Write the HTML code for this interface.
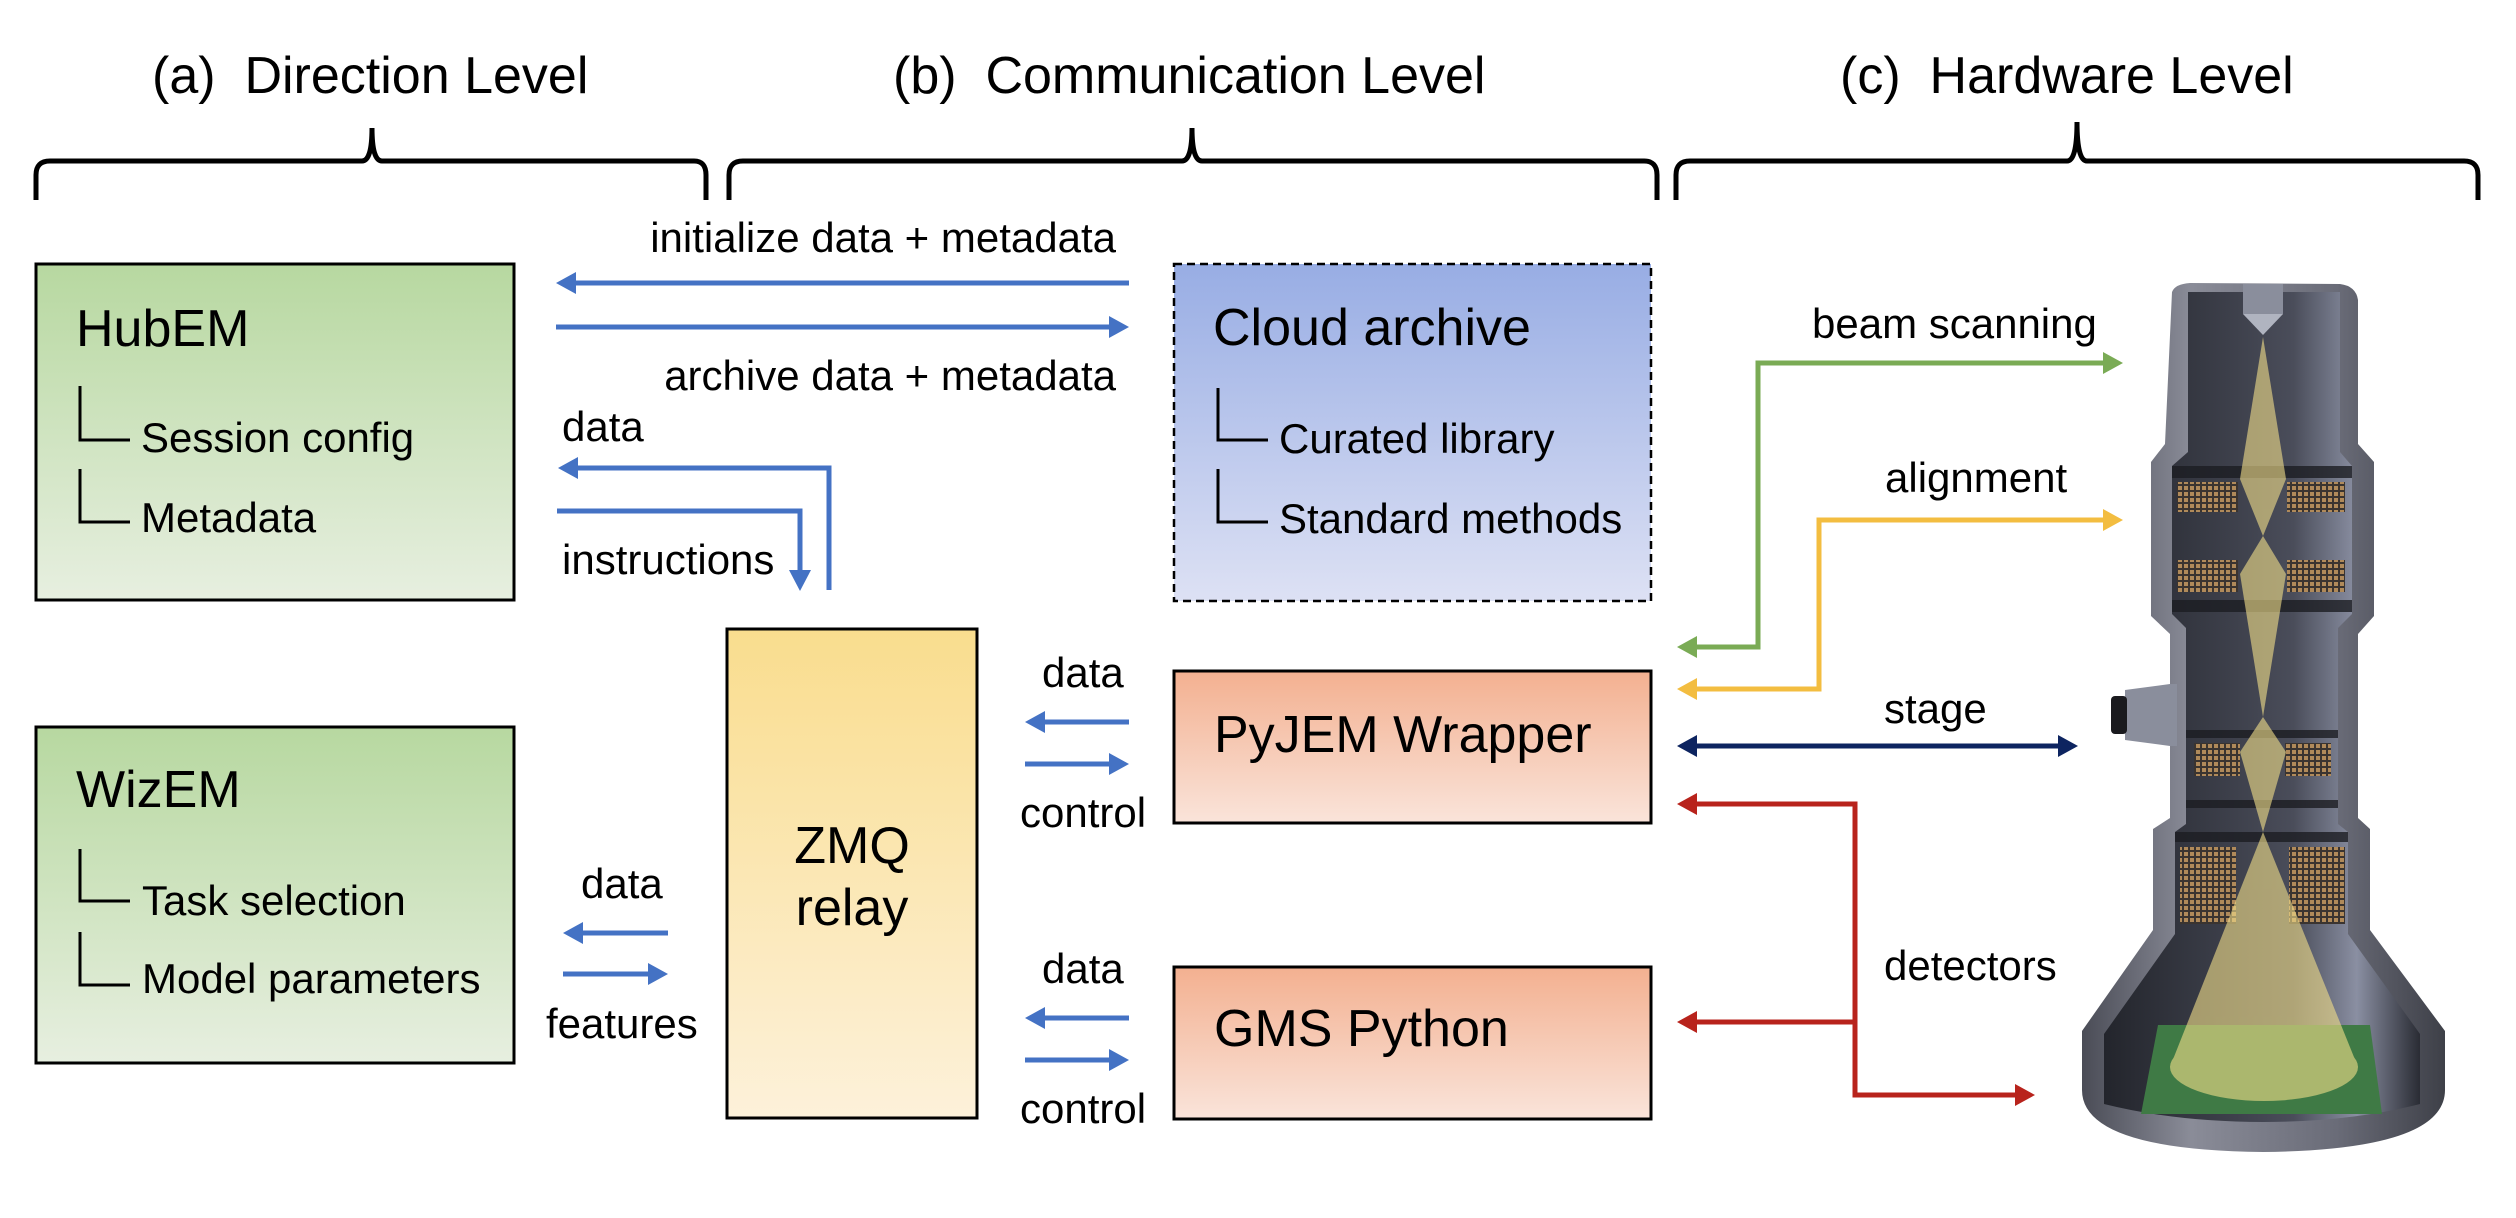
<!DOCTYPE html>
<html><head><meta charset="utf-8"><style>
html,body{margin:0;padding:0;background:#fff;}
svg{display:block;}
text{font-family:"Liberation Sans",Arial,sans-serif;fill:#000;}
</style></head><body>
<svg width="2516" height="1218" viewBox="0 0 2516 1218" xmlns="http://www.w3.org/2000/svg">
<defs>
<linearGradient id="gG" x1="0" y1="0" x2="0" y2="1"><stop offset="0" stop-color="#b7d8a0"/><stop offset="1" stop-color="#e7efe0"/></linearGradient>
<linearGradient id="gB" x1="0" y1="0" x2="0" y2="1"><stop offset="0" stop-color="#98ade4"/><stop offset="1" stop-color="#dde1f4"/></linearGradient>
<linearGradient id="gS" x1="0" y1="0" x2="0" y2="1"><stop offset="0" stop-color="#f3b090"/><stop offset="1" stop-color="#fae4da"/></linearGradient>
<linearGradient id="gY" x1="0" y1="0" x2="0" y2="1"><stop offset="0" stop-color="#f9dd8e"/><stop offset="1" stop-color="#fdf1da"/></linearGradient>
<linearGradient id="gMet" x1="0" y1="0" x2="1" y2="0"><stop offset="0" stop-color="#4a4c56"/><stop offset="0.3" stop-color="#8a8c98"/><stop offset="0.7" stop-color="#6a6c78"/><stop offset="1" stop-color="#3e4048"/></linearGradient>
<linearGradient id="gIn" x1="0" y1="0" x2="1" y2="0"><stop offset="0" stop-color="#23252c"/><stop offset="0.6" stop-color="#4a4d5a"/><stop offset="0.8" stop-color="#8a8fa2"/><stop offset="1" stop-color="#2a2c34"/></linearGradient>
<pattern id="coil" width="6" height="6" patternUnits="userSpaceOnUse"><rect width="6" height="6" fill="#3a3430"/><rect width="4" height="4" fill="#b08a5a"/></pattern>
</defs>

<text x="152" y="93" font-size="52" xml:space="preserve">(a)  Direction Level</text>
<text x="893" y="93" font-size="52" xml:space="preserve">(b)  Communication Level</text>
<text x="1840" y="93" font-size="52" xml:space="preserve">(c)  Hardware Level</text>

<g fill="none" stroke="#000" stroke-width="5">
<path d="M36,200 V175 Q36,161 50,161 H362 Q372,161 372,128 Q372,161 382,161 H694 Q706,161 706,175 V200"/>
<path d="M729,200 V175 Q729,161 743,161 H1182 Q1192,161 1192,128 Q1192,161 1202,161 H1644 Q1657,161 1657,175 V200"/>
<path d="M1676,200 V175 Q1676,161 1690,161 H2067 Q2077,161 2077,122 Q2077,161 2087,161 H2464 Q2478,161 2478,175 V200"/>
</g>

<rect x="36" y="264" width="478" height="336" fill="url(#gG)" stroke="#000" stroke-width="3"/>
<rect x="36" y="727" width="478" height="336" fill="url(#gG)" stroke="#000" stroke-width="3"/>
<rect x="1174" y="264" width="477" height="337" fill="url(#gB)" stroke="#000" stroke-width="2.5" stroke-dasharray="8,5"/>
<rect x="1174" y="671" width="477" height="152" fill="url(#gS)" stroke="#000" stroke-width="3"/>
<rect x="1174" y="967" width="477" height="152" fill="url(#gS)" stroke="#000" stroke-width="3"/>
<rect x="727" y="629" width="250" height="489" fill="url(#gY)" stroke="#000" stroke-width="3"/>

<text x="76" y="346" font-size="52">HubEM</text>
<text x="76" y="807" font-size="52">WizEM</text>
<text x="1213" y="345" font-size="52">Cloud archive</text>
<text x="1214" y="752" font-size="52">PyJEM Wrapper</text>
<text x="1214" y="1046" font-size="52">GMS Python</text>
<text x="852" y="863" font-size="52" text-anchor="middle">ZMQ</text>
<text x="852" y="925" font-size="52" text-anchor="middle">relay</text>

<g fill="none" stroke="#000" stroke-width="3">
<path d="M80,386 V440 H130 M80,469 V522 H130"/>
<path d="M80,849 V901 H130 M80,932 V985 H130"/>
<path d="M1218,388 V440 H1268 M1218,469 V522 H1268"/>
</g>
<g font-size="42">
<text x="141" y="452">Session config</text>
<text x="141" y="532">Metadata</text>
<text x="142" y="915">Task selection</text>
<text x="142" y="993">Model parameters</text>
<text x="1279" y="453">Curated library</text>
<text x="1279" y="533">Standard methods</text>
</g>

<g fill="none" stroke="#4472c4" stroke-width="5">
<path d="M1129,283 H572"/>
<path d="M556,327 H1112"/>
<path d="M829,590 V468 H574"/>
<path d="M557,511 H800 V572"/>
<path d="M668,933 H580"/>
<path d="M563,974 H651"/>
<path d="M1129,722 H1042"/>
<path d="M1025,764 H1112"/>
<path d="M1129,1018 H1042"/>
<path d="M1025,1060 H1112"/>
</g>
<g fill="#4472c4">
<polygon points="556,283 576,272 576,294"/>
<polygon points="1129,327 1109,316 1109,338"/>
<polygon points="558,468 578,457 578,479"/>
<polygon points="800,591 789,570 811,570"/>
<polygon points="563,933 583,922 583,944"/>
<polygon points="668,974 648,963 648,985"/>
<polygon points="1025,722 1045,711 1045,733"/>
<polygon points="1129,764 1109,753 1109,775"/>
<polygon points="1025,1018 1045,1007 1045,1029"/>
<polygon points="1129,1060 1109,1049 1109,1071"/>
</g>
<g font-size="42">
<text x="1116" y="252" text-anchor="end">initialize data + metadata</text>
<text x="1116" y="390" text-anchor="end">archive data + metadata</text>
<text x="562" y="441">data</text>
<text x="562" y="574">instructions</text>
<text x="581" y="898">data</text>
<text x="546" y="1038">features</text>
<text x="1042" y="687">data</text>
<text x="1020" y="827">control</text>
<text x="1042" y="983">data</text>
<text x="1020" y="1123">control</text>
<text x="1812" y="338">beam scanning</text>
<text x="1885" y="492">alignment</text>
<text x="1884" y="723">stage</text>
<text x="1884" y="980">detectors</text>
</g>

<g fill="none" stroke-width="5">
<path d="M1695,647 H1758 V363 H2105" stroke="#7aab55"/>
<path d="M1695,689 H1819 V520 H2105" stroke="#f3bd40"/>
<path d="M1695,746 H2060" stroke="#0d2460"/>
<path d="M1695,804 H1855 V1095 H2017 M1855,1022 H1695" stroke="#b8231c"/>
</g>
<polygon points="1677,647 1697,636 1697,658" fill="#7aab55"/>
<polygon points="2123,363 2103,352 2103,374" fill="#7aab55"/>
<polygon points="1677,689 1697,678 1697,700" fill="#f3bd40"/>
<polygon points="2123,520 2103,509 2103,531" fill="#f3bd40"/>
<polygon points="1677,746 1697,735 1697,757" fill="#0d2460"/>
<polygon points="2078,746 2058,735 2058,757" fill="#0d2460"/>
<g fill="#b8231c">
<polygon points="1677,804 1697,793 1697,815"/>
<polygon points="1677,1022 1697,1011 1697,1033"/>
<polygon points="2035,1095 2015,1084 2015,1106"/>
</g>

<g>
<path d="M2172,292 Q2175,284 2190,283 L2340,284 Q2356,286 2358,300 L2358,444 L2374,462 L2374,616 L2358,634 L2358,818 L2370,829 L2370,930 L2445,1031 L2445,1090 Q2445,1150 2263,1152 Q2082,1150 2082,1090 L2082,1031 L2153,930 L2153,829 L2170,818 L2170,634 L2151,616 L2151,462 L2165,444 Z" fill="url(#gMet)"/>
<path d="M2188,292 L2340,292 L2340,452 L2352,466 L2352,614 L2338,628 L2338,824 L2348,832 L2348,934 L2420,1034 L2420,1104 Q2350,1122 2263,1122 Q2176,1122 2104,1104 L2104,1034 L2175,934 L2175,832 L2186,824 L2186,628 L2172,614 L2172,466 L2188,452 Z" fill="url(#gIn)"/>
<rect x="2243" y="284" width="40" height="30" fill="#8a8e9c"/>
<polygon points="2243,314 2283,314 2263,335" fill="#b0b4c0"/>
<g fill="#1c1d22" opacity="0.8">
<rect x="2172" y="466" width="180" height="12"/>
<rect x="2172" y="600" width="180" height="12"/>
<rect x="2186" y="730" width="152" height="8"/>
<rect x="2186" y="800" width="152" height="8"/>
<rect x="2175" y="832" width="173" height="10"/>
</g>
<g fill="url(#coil)">
<rect x="2177" y="482" width="61" height="30"/><rect x="2287" y="482" width="58" height="30"/>
<rect x="2177" y="560" width="61" height="32"/><rect x="2287" y="560" width="58" height="32"/>
<rect x="2194" y="743" width="46" height="33"/><rect x="2285" y="743" width="46" height="33"/>
<rect x="2180" y="847" width="56" height="77"/><rect x="2289" y="847" width="56" height="77"/>
</g>
<polygon points="2158,1025 2370,1025 2382,1114 2141,1114" fill="#3f7a45"/>
<g fill="#f3e08a" opacity="0.6">
<polygon points="2263,337 2240,479 2263,536 2286,479"/>
<polygon points="2263,536 2240,574 2263,717 2286,574"/>
<polygon points="2263,717 2240,752 2263,832 2286,752"/>
<polygon points="2263,832 2170,1067 2358,1067"/>
<ellipse cx="2264" cy="1067" rx="94" ry="34"/>
</g>
<path d="M2125,690 L2170,684 L2177,684 L2177,746 L2170,746 L2125,740 Z" fill="#8a8e9c"/>
<rect x="2111" y="696" width="16" height="38" rx="4" fill="#1a1a1e"/>
</g>
</svg>
</body></html>
